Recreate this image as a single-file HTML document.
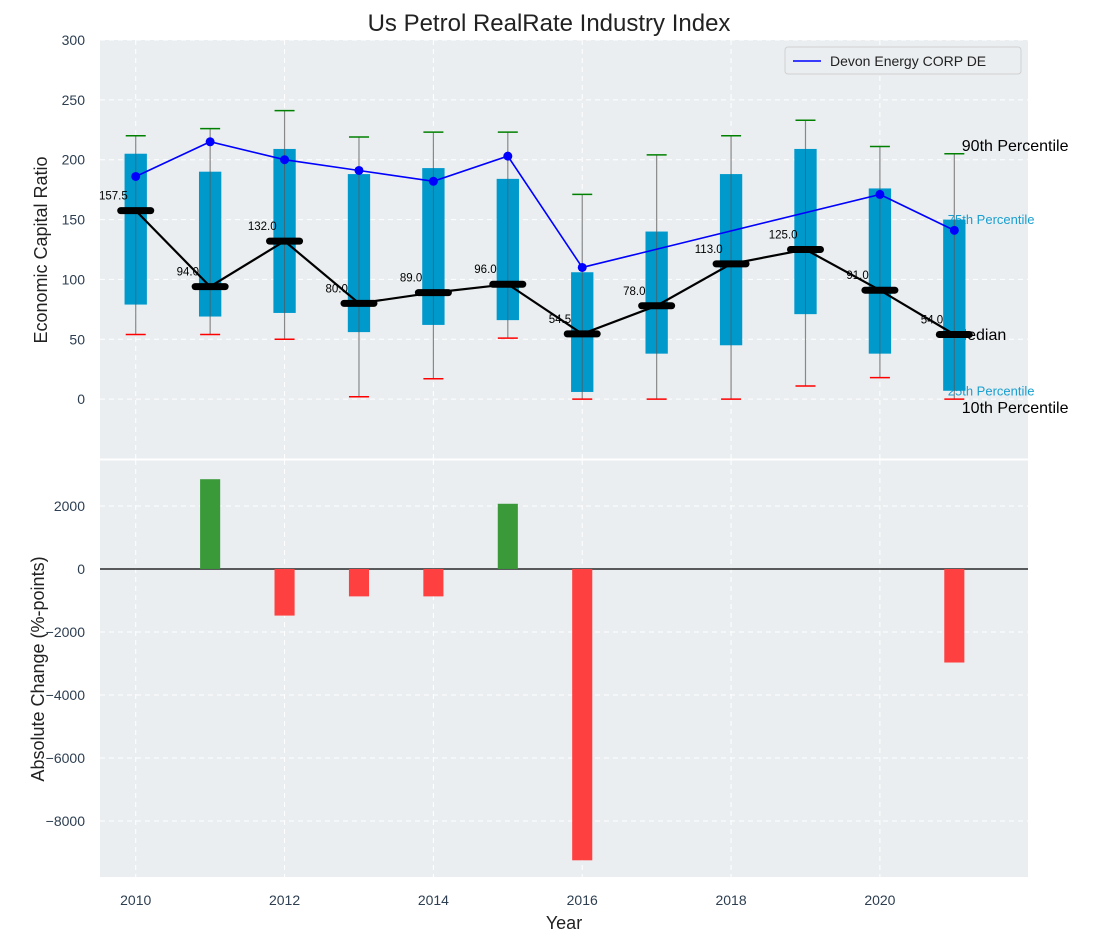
<!DOCTYPE html>
<html><head><meta charset="utf-8"><style>
body{margin:0;background:#fff;}
svg{display:block;font-family:"Liberation Sans","DejaVu Sans",sans-serif;}
</style></head><body>
<svg id="c" width="1098" height="942"></svg>
<script>
const years=[2010,2011,2012,2013,2014,2015,2016,2017,2018,2019,2020,2021];
const p10=[54,54,50,2,17,51,0,0,0,11,18,0];
const q25=[79,69,72,56,62,66,6,38,45,71,38,7];
const q75=[205,190,209,188,193,184,106,140,188,209,176,150];
const p90=[220,226,241,219,223,223,171,204,220,233,211,205];
const medians=[157.5,94,132,80,89,96,54.5,78,113,125,91,54];
const devonYears=[2010,2011,2012,2013,2014,2015,2016,2020,2021];
const devonVals=[186,215,200,191,182,203,110,171,141];
const changeYears=[2011,2012,2013,2014,2015,2016,2021];
const changeVals=[2850,-1480,-870,-870,2070,-9250,-2970];
const topTicks=[0,50,100,150,200,250,300];
const botTicks=[-8000,-6000,-4000,-2000,0,2000];
const xTicks=[2010,2012,2014,2016,2018,2020];

const NS="http://www.w3.org/2000/svg";
const svg=document.getElementById('c');
function el(t,a,p){const e=document.createElementNS(NS,t);for(const k in a)e.setAttribute(k,a[k]);(p||svg).appendChild(e);return e;}
const L=100,R=1028;
const X=v=>L+(v-2009.52)/(2021.99-2009.52)*(R-L);
const T0=40,T1=459;const YT=v=>T0+(300-v)/350*(T1-T0);
const B0=460,B1=877;const YB=v=>B0+(3460-v)/(3460+9780)*(B1-B0);

let e=el('rect',{x:L,y:T0,width:R-L,height:T1-T0,fill:'#eaeef0'});

e=el('rect',{x:L,y:B0,width:R-L,height:B1-B0,fill:'#eaeef0'});


xTicks.forEach(t=>{
 el('line',{x1:X(t),x2:X(t),y1:T0,y2:T1,stroke:'#fff','stroke-dasharray':'5,4','stroke-width':1});
 el('line',{x1:X(t),x2:X(t),y1:B0,y2:B1,stroke:'#fff','stroke-dasharray':'5,4','stroke-width':1});
 e=el('text',{x:X(t),y:905,'text-anchor':'middle','font-size':14,fill:'#2c3e50'});e.textContent=t;
 
});
topTicks.forEach(t=>{
 el('line',{x1:L,x2:R,y1:YT(t),y2:YT(t),stroke:'#fff','stroke-dasharray':'5,4','stroke-width':1});
 e=el('text',{x:85,y:YT(t)+5,'text-anchor':'end','font-size':14,fill:'#2c3e50'});e.textContent=t;
 
});
botTicks.forEach(t=>{
 el('line',{x1:L,x2:R,y1:YB(t),y2:YB(t),stroke:'#fff','stroke-dasharray':'5,4','stroke-width':1});
 e=el('text',{x:85,y:YB(t)+5,'text-anchor':'end','font-size':14,fill:'#2c3e50'});e.textContent=t<0?'\u2212'+(-t):t;
 
});

const last=years.length-1,lx=X(2021.1);
function lab(txt,v,fs,col,name,x){e=el('text',{x:x,y:YT(v)+fs*0.35,'font-size':fs,fill:col});e.textContent=txt;
 }
lab('90th Percentile',p90[last]+7,16,'#000','p90-label',lx);
lab('75th Percentile',q75[last],13,'#1a9fd0','p75-label',lx-14);
lab('Median',medians[last],16,'#000','median-label',lx-8);
lab('25th Percentile',q25[last],13,'#1a9fd0','p25-label',lx-14);
lab('10th Percentile',p10[last]-7,16,'#000','p10-label',lx);

years.forEach((y,i)=>{
 const x=X(y);
 e=el('line',{x1:x,x2:x,y1:YT(p10[i]),y2:YT(p90[i]),stroke:'#888','stroke-width':1.2});
 
 const bw=X(y+0.15)-x;
 e=el('rect',{x:x-bw,y:YT(q75[i]),width:2*bw,height:YT(q25[i])-YT(q75[i]),fill:'#0099cc'});
 
 el('line',{x1:x,x2:x,y1:YT(q75[i]),y2:YT(q25[i]),stroke:'#555','stroke-width':1,opacity:0.7});
 e=el('line',{x1:x-10,x2:x+10,y1:YT(p90[i]),y2:YT(p90[i]),stroke:'green','stroke-width':1.5});
 
 e=el('line',{x1:x-10,x2:x+10,y1:YT(p10[i]),y2:YT(p10[i]),stroke:'red','stroke-width':1.5});
 
});
e=el('polyline',{points:years.map((y,i)=>X(y)+','+YT(medians[i])).join(' '),fill:'none',stroke:'#000','stroke-width':2.2});

years.forEach((y,i)=>{
 const x=X(y),yy=YT(medians[i]);
 e=el('line',{x1:x-15,x2:x+15,y1:yy,y2:yy,stroke:'#000','stroke-width':7,'stroke-linecap':'round'});
 
 e=el('text',{x:X(y-0.3),y:yy-11,'text-anchor':'middle','font-size':11.5,fill:'#000'});e.textContent=medians[i].toFixed(1);
 
});
e=el('polyline',{points:devonYears.map((y,i)=>X(y)+','+YT(devonVals[i])).join(' '),fill:'none',stroke:'#0000ff','stroke-width':1.6});

devonYears.forEach((y,i)=>{e=el('circle',{cx:X(y),cy:YT(devonVals[i]),r:4.5,fill:'#0000ff'});
 });

const lg=el('g',{});
el('rect',{x:785,y:47,width:236,height:27,rx:3,fill:'#eaeef0',stroke:'#d0d0d0'},lg);
el('line',{x1:793,x2:821,y1:61,y2:61,stroke:'#0000ff','stroke-width':1.6},lg);
e=el('text',{x:830,y:66,'font-size':14,fill:'#222'},lg);e.textContent='Devon Energy CORP DE';


el('line',{x1:L,x2:R,y1:YB(0),y2:YB(0),stroke:'#000','stroke-width':1.2});
changeYears.forEach((y,i)=>{
 const v=changeVals[i],bw=X(y+0.135)-X(y);
 e=el('rect',{x:X(y)-bw,y:Math.min(YB(v),YB(0)),width:2*bw,height:Math.abs(YB(v)-YB(0)),fill:v>=0?'#3a9a3a':'#ff4040'});
 
});
el('line',{x1:L,x2:R,y1:459.5,y2:459.5,stroke:'#fff','stroke-width':2});

e=el('text',{x:549,y:31,'text-anchor':'middle','font-size':24,fill:'#222'});e.textContent='Us Petrol RealRate Industry Index';

e=el('text',{x:564,y:929,'text-anchor':'middle','font-size':18,fill:'#222'});e.textContent='Year';

e=el('text',{x:0,y:0,'text-anchor':'middle','font-size':18,fill:'#222',transform:'translate(47,250) rotate(-90)'});e.textContent='Economic Capital Ratio';

e=el('text',{x:0,y:0,'text-anchor':'middle','font-size':18,fill:'#222',transform:'translate(44,669) rotate(-90)'});e.textContent='Absolute Change (%-points)';

</script>
</body></html>
